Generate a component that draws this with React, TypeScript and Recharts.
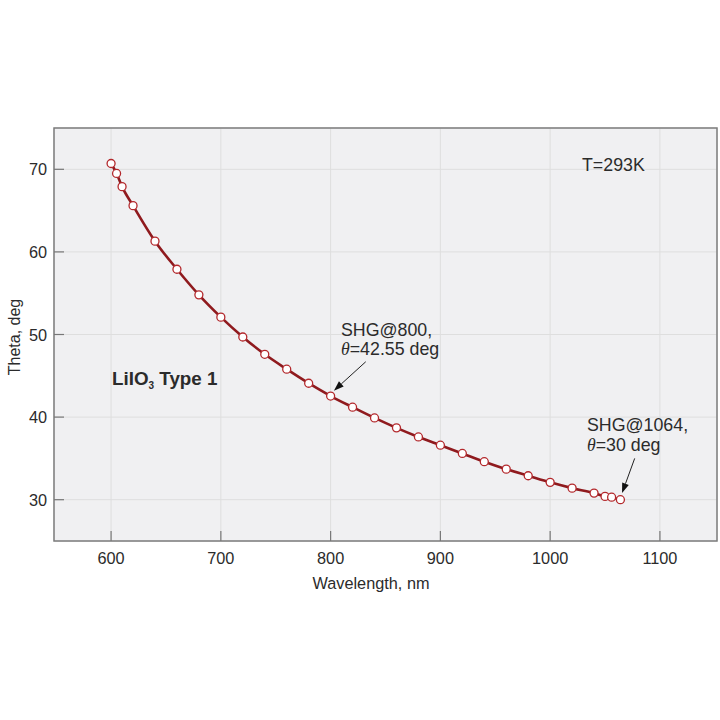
import React from "react";
import {
  LineChart,
  Line,
  XAxis,
  YAxis,
  CartesianGrid,
  ReferenceArea,
  ReferenceLine,
  Customized,
} from "recharts";

// LiIO3 type 1 phase matching angle vs wavelength
const wavelength = [600, 605, 610, 620, 640, 660, 680, 700, 720, 740, 760, 780, 800, 820, 840, 860, 880, 900, 920, 940, 960, 980, 1000, 1020, 1040, 1050, 1056, 1064];
const theta = [70.7, 69.5, 67.9, 65.6, 61.3, 57.9, 54.8, 52.1, 49.7, 47.6, 45.8, 44.1, 42.55, 41.2, 39.9, 38.7, 37.6, 36.6, 35.6, 34.6, 33.7, 32.9, 32.1, 31.4, 30.8, 30.4, 30.3, 30.0];
const xTicks = [600, 700, 800, 900, 1000, 1100];
const yTicks = [30, 40, 50, 60, 70];
const xDomain = [548, 1152];
const yDomain = [25, 75];
// annotation arrows (data coords): [from, to]
const arrow800 = [{ x: 832, y: 46.7 }, { x: 803, y: 43.2 }];
const arrow1064 = [{ x: 1077, y: 35.0 }, { x: 1065.5, y: 30.8 }];

const data = wavelength.map((wl, i) => ({ wl, theta: theta[i] }));

const FONT = "'Liberation Sans', Arial, sans-serif";
const TEXT = "#2b2b2b";
const PLOT_LEFT = 54;
const PLOT_BOTTOM = 541;
const TICK_LEN = 10;
const AX_FS = 16.3;
const NOTE_FS = 17.8;

const XTick = (p: any) => (
  <g>
    <line x1={p.x} x2={p.x} y1={PLOT_BOTTOM} y2={PLOT_BOTTOM - TICK_LEN} stroke="#777" strokeWidth={1.2} />
    <text x={p.x} y={PLOT_BOTTOM + 22.5} textAnchor="middle" fontSize={AX_FS} fill={TEXT} fontFamily={FONT}>
      {p.payload.value}
    </text>
  </g>
);

const YTick = (p: any) => (
  <g>
    <line x1={PLOT_LEFT} x2={PLOT_LEFT + TICK_LEN} y1={p.y} y2={p.y} stroke="#777" strokeWidth={1.2} />
    <text x={PLOT_LEFT - 7} y={p.y + 6} textAnchor="end" fontSize={AX_FS} fill={TEXT} fontFamily={FONT}>
      {p.payload.value}
    </text>
  </g>
);

const Arrow = (p: any) => {
  const { x1, y1, x2, y2 } = p;
  const a = Math.atan2(y2 - y1, x2 - x1);
  const L = 10;
  const w = 3.5;
  const bx = x2 - L * Math.cos(a);
  const by = y2 - L * Math.sin(a);
  const px = -Math.sin(a) * w;
  const py = Math.cos(a) * w;
  return (
    <g>
      <line x1={x1} y1={y1} x2={bx} y2={by} stroke="#222" strokeWidth={1} />
      <polygon points={`${x2},${y2} ${bx + px},${by + py} ${bx - px},${by - py}`} fill="#111" />
    </g>
  );
};

const Texts = () => (
  <g fontFamily={FONT} fill={TEXT}>
    <text x={14} y={337} fontSize={16} textAnchor="middle" transform="rotate(-90 14 337)" dominantBaseline="central">
      Theta, deg
    </text>
    <text x={371} y={589} fontSize={AX_FS} textAnchor="middle">Wavelength, nm</text>
    <text x={582} y={171} fontSize={NOTE_FS}>T=293K</text>
    <text x={112} y={385} fontSize={18.8} fontWeight="bold">
      LiIO<tspan fontSize={10} dy={4}>3</tspan><tspan dy={-4}> Type 1</tspan>
    </text>
    <text x={341} y={336} fontSize={NOTE_FS}>SHG@800,</text>
    <text x={341} y={355} fontSize={NOTE_FS}>
      <tspan fontFamily="'Liberation Serif', serif" fontStyle="italic">θ</tspan>=42.55 deg
    </text>
    <text x={587} y={431} fontSize={NOTE_FS}>SHG@1064,</text>
    <text x={587} y={451} fontSize={NOTE_FS}>
      <tspan fontFamily="'Liberation Serif', serif" fontStyle="italic">θ</tspan>=30 deg
    </text>
  </g>
);

export default function App() {
  return (
    <div style={{ position: "absolute", left: 0, top: 0, width: 720, height: 720, background: "#fff" }}>
      <LineChart width={720} height={720} data={data} margin={{ top: 128, right: 3, bottom: 139, left: 10 }}>
        <CartesianGrid stroke="#dedede" fill="#f0f0f2" strokeWidth={1} />
        <XAxis
          dataKey="wl"
          type="number"
          domain={xDomain}
          ticks={xTicks}
          axisLine={false}
          tickLine={false}
          height={40}
          tick={<XTick />}
          allowDataOverflow
        />
        <YAxis
          type="number"
          domain={yDomain}
          ticks={yTicks}
          axisLine={false}
          tickLine={false}
          width={44}
          tick={<YTick />}
          allowDataOverflow
        />
        <ReferenceArea x1={xDomain[0]} x2={xDomain[1]} y1={yDomain[0]} y2={yDomain[1]} fill="none" fillOpacity={0} stroke="#7d7d7d" strokeWidth={1.5} ifOverflow="visible" />
        <Line
          type="monotone"
          dataKey="theta"
          stroke="#8f1a1e"
          strokeWidth={2.6}
          dot={{ r: 4, fill: "#fff", stroke: "#b3282c", strokeWidth: 1.3 }}
          isAnimationActive={false}
        />
        <ReferenceLine segment={arrow800} shape={<Arrow />} ifOverflow="visible" />
        <ReferenceLine segment={arrow1064} shape={<Arrow />} ifOverflow="visible" />
        <Customized component={<Texts />} />
      </LineChart>
    </div>
  );
}
